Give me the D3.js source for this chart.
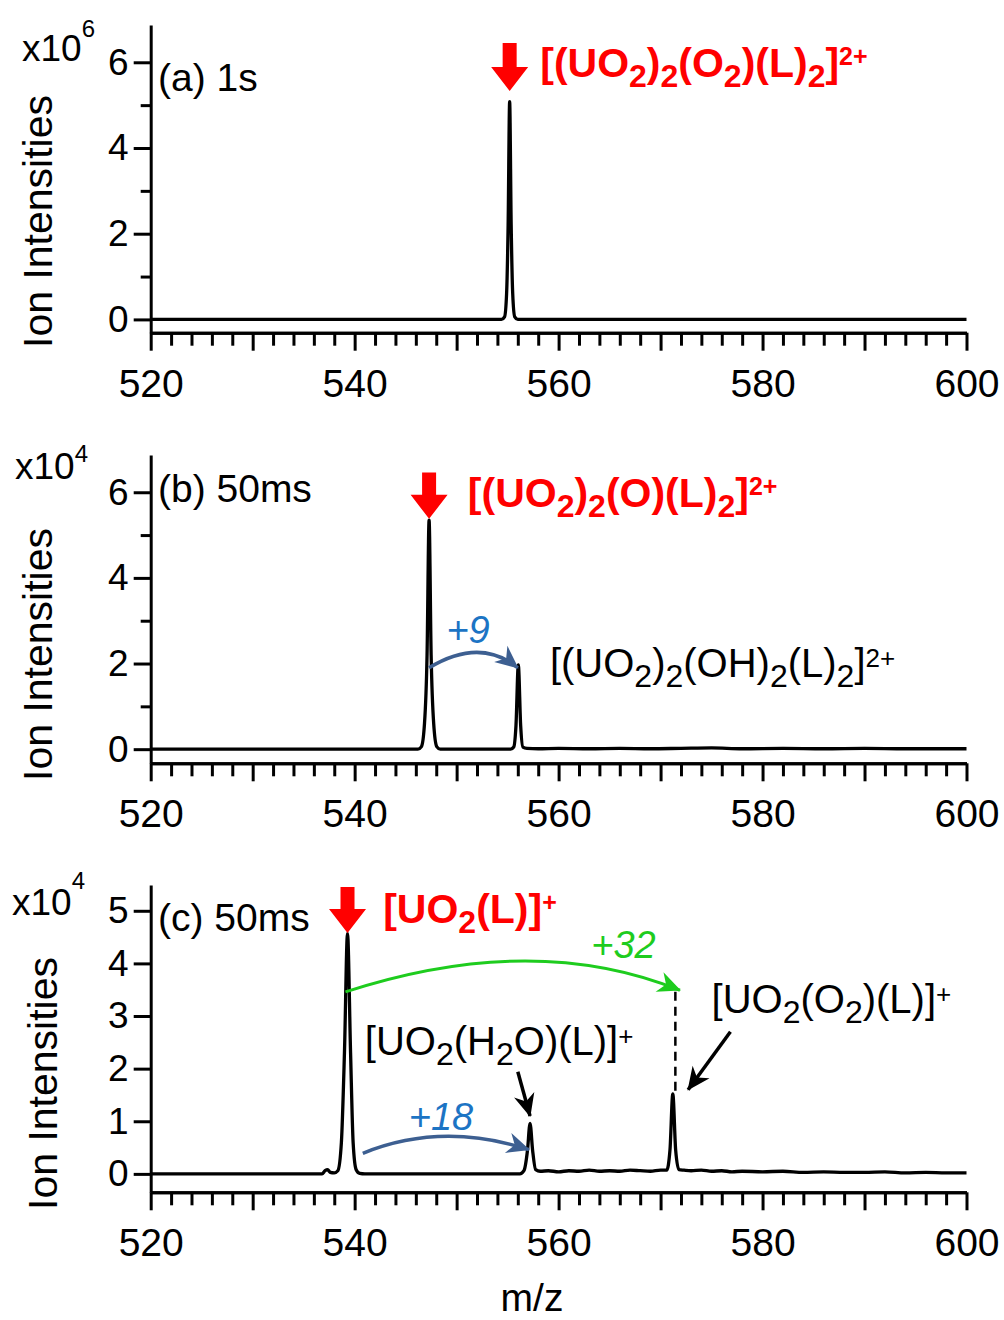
<!DOCTYPE html>
<html>
<head>
<meta charset="utf-8">
<script src="https://cdn.jsdelivr.net/npm/d3@7.9.0/dist/d3.min.js"></script>
<style>
  body { margin: 0; background: #fff; }
  svg { display: block; font-family: "Liberation Sans", Arial, sans-serif; }
</style>
</head>
<body>
<svg id="chart" width="1004" height="1320"></svg>
<script>
// ---- data ----
const xDomain = [520, 600];
const xLabelTicks = [520, 540, 560, 580, 600];
const xMajorTicks = [520, 530, 540, 550, 560, 570, 580, 590, 600];
const xMinorTicks = [522, 524, 526, 528, 532, 534, 536, 538, 542, 544, 546, 548,
  552, 554, 556, 558, 562, 564, 566, 568, 572, 574, 576, 578,
  582, 584, 586, 588, 592, 594, 596, 598];

// (a) 1s, intensities x10^6
const spectrumA = [
  [520, 0], [554.4, 0], [554.7, 0.06], [554.9, 0.6], [555.05, 2.2], [555.2, 5.08],
  [555.35, 2.2], [555.5, 0.6], [555.7, 0.06], [556.0, 0], [600, 0]
];
// (b) 50ms, intensities x10^4
const spectrumB = [
  [520, 0], [546.2, 0], [546.55, 0.06], [546.85, 0.6], [547.1, 2.2], [547.3, 5.35],
  [547.5, 2.2], [547.75, 0.6], [548.05, 0.06], [548.4, 0],
  [555.3, 0], [555.6, 0.05], [555.82, 0.55], [556.05, 1.97], [556.28, 0.55], [556.5, 0.05],
  [556.9, 0.02], [558, 0.01], [560, 0.02], [563, 0.01], [566, 0.02], [569, 0.01],
  [572, 0.02], [575, 0.03], [578, 0.01], [582, 0.02], [586, 0.01], [590, 0.02],
  [594, 0.01], [600, 0.01]
];
// (c) 50ms, intensities x10^4
const spectrumC = [
  [520, 0], [536.8, 0], [537.1, 0.06], [537.35, 0.08], [537.6, 0.03], [538.0, 0.02],
  [538.35, 0.06], [538.7, 0.6], [539.0, 2.3], [539.3, 4.57], [539.6, 2.3], [539.85, 0.6],
  [540.15, 0.08], [540.5, 0.01], [541, 0],
  [556.2, 0], [556.6, 0.06], [556.95, 0.45], [557.2, 0.96], [557.45, 0.45], [557.75, 0.08],
  [558.2, 0.05], [559, 0.06], [560, 0.04], [561, 0.06], [562, 0.05], [563, 0.07],
  [564, 0.05], [565, 0.06], [566, 0.05], [567, 0.07], [568, 0.06], [569, 0.05],
  [570, 0.07], [570.6, 0.07], [570.92, 0.45], [571.2, 1.52], [571.48, 0.45], [571.8, 0.08],
  [572.3, 0.07], [573, 0.06], [574, 0.07], [575, 0.05], [576, 0.06], [577, 0.04],
  [578, 0.05], [580, 0.04], [582, 0.05], [584, 0.03], [586, 0.04], [588, 0.03],
  [590, 0.03], [592, 0.04], [594, 0.02], [596, 0.03], [598, 0.02], [600, 0.02]
];

// chemical formula labels: [text, kind]
const formulaA = [['[(UO'], ['2', 'sub'], [')'], ['2', 'sub'], ['(O'], ['2', 'sub'], [')(L)'], ['2', 'sub'], [']'], ['2+', 'sup']];
const formulaB = [['[(UO'], ['2', 'sub'], [')'], ['2', 'sub'], ['(O)(L)'], ['2', 'sub'], [']'], ['2+', 'sup']];
const formulaB2 = [['[(UO'], ['2', 'sub'], [')'], ['2', 'sub'], ['(OH)'], ['2', 'sub'], ['(L)'], ['2', 'sub'], [']'], ['2+', 'sup']];
const formulaC = [['[UO'], ['2', 'sub'], ['(L)]'], ['+', 'sup']];
const formulaC2 = [['[UO'], ['2', 'sub'], ['(H'], ['2', 'sub'], ['O)(L)]'], ['+', 'sup']];
const formulaC3 = [['[UO'], ['2', 'sub'], ['(O'], ['2', 'sub'], [')(L)]'], ['+', 'sup']];

const red = '#ff0000';
const blueText = '#1c74c4';
const blueArrow = '#3d5f91';
const green = '#1ecc1e';

const svg = d3.select('#chart');
const x = d3.scaleLinear().domain(xDomain).range([150.7, 966.5]);

const defs = svg.append('defs');
function marker(id, color) {
  defs.append('marker')
    .attr('id', id)
    .attr('markerUnits', 'userSpaceOnUse')
    .attr('viewBox', '-24 -12 26 24')
    .attr('refX', 0).attr('refY', 0)
    .attr('markerWidth', 26).attr('markerHeight', 24)
    .attr('orient', 'auto')
    .append('path')
    .attr('d', 'M1,0 L-22,-10.5 L-15,0 L-22,10.5 Z')
    .attr('fill', color);
}
marker('head-blue', blueArrow);
marker('head-green', green);
marker('head-black', '#000');

function formula(g, px, py, parts, o) {
  const t = g.append('text')
    .attr('x', px).attr('y', py)
    .attr('fill', o.color)
    .style('font-weight', o.bold ? 'bold' : 'normal')
    .style('font-size', o.size + 'px');
  parts.forEach(([s, kind]) => {
    const ts = t.append('tspan').text(s);
    if (kind === 'sub') ts.attr('y', py + o.subShift).style('font-size', o.sub + 'px');
    else if (kind === 'sup') ts.attr('y', py - o.supShift).style('font-size', o.sup + 'px');
    else ts.attr('y', py);
  });
}

function redArrow(g, y, mz, tipV, topV) {
  const tx = x(mz), ty = y(tipV), top = y(topV);
  const sw = 7, hw = 18.5, hl = 24;
  g.append('path')
    .attr('d', `M${tx - sw},${top} H${tx + sw} V${ty - hl} H${tx + hw} L${tx},${ty} L${tx - hw},${ty - hl} H${tx - sw} Z`)
    .attr('fill', red);
}

function curved(g, y, p0, c, p1, color, id, w) {
  g.append('path')
    .attr('d', `M${x(p0[0])},${y(p0[1])} Q${x(c[0])},${y(c[1])} ${x(p1[0])},${y(p1[1])}`)
    .attr('fill', 'none')
    .attr('stroke', color)
    .attr('stroke-width', w)
    .attr('marker-end', `url(#${id})`);
}

function note(g, px, py, color, txt) {
  g.append('text').attr('x', px).attr('y', py)
    .attr('fill', color).style('font-size', '38px').style('font-style', 'italic').text(txt);
}

const bigRed = { color: red, bold: true, size: 41, sub: 32, sup: 25, subShift: 10, supShift: 12 };
const plain = { color: '#000', bold: false, size: 40, sub: 32, sup: 26, subShift: 10, supShift: 10 };

const panels = [
  {
    data: spectrumA, yDomain: [-0.31, 6.87], yRange: [332.7, 25],
    yMajor: [0, 2, 4, 6], yMinor: [1, 3, 5], exp: '6',
    expPos: [22, 61, 37], titlePos: [158, 91], yLabelPos: [52, 221.5], title: '(a) 1s',
    annotate(g, y) {
      redArrow(g, y, 555.2, 5.33, 6.45);
      formula(g, x(558.2), y(5.65), formulaA, bigRed);
    }
  },
  {
    data: spectrumB, yDomain: [-0.33, 6.87], yRange: [763.3, 455],
    yMajor: [0, 2, 4, 6], yMinor: [1, 3, 5], exp: '4',
    expPos: [15, 479, 462], titlePos: [158, 502], yLabelPos: [52, 654.5], title: '(b) 50ms',
    annotate(g, y) {
      redArrow(g, y, 547.3, 5.38, 6.46);
      formula(g, x(551.1), y(5.66), formulaB, bigRed);
      curved(g, y, [547.3, 1.9], [552.3, 2.62], [556.0, 1.9], blueArrow, 'head-blue', 3.5);
      note(g, x(549.0), y(2.48), blueText, '+9');
      formula(g, x(559.15), y(1.69), formulaB2, plain);
    }
  },
  {
    data: spectrumC, yDomain: [-0.35, 5.49], yRange: [1192.3, 885],
    yMajor: [0, 1, 2, 3, 4, 5], yMinor: [], exp: '4',
    expPos: [12, 915, 889], titlePos: [158, 931], yLabelPos: [57, 1083.5], title: '(c) 50ms',
    annotate(g, y) {
      redArrow(g, y, 539.3, 4.58, 5.45);
      formula(g, x(542.8), y(4.76), formulaC, bigRed);
      curved(g, y, [539.1, 3.46], [557.5, 4.62], [571.9, 3.49], green, 'head-green', 3);
      note(g, x(563.2), y(4.1), green, '+32');
      g.append('line')
        .attr('x1', x(571.45)).attr('x2', x(571.45))
        .attr('y1', y(3.46)).attr('y2', y(1.58))
        .attr('stroke', '#000').attr('stroke-width', 2.5).attr('stroke-dasharray', '9,6');
      formula(g, x(541.0), y(2.26), formulaC2, plain);
      g.append('line')
        .attr('x1', x(556.0)).attr('y1', y(1.94)).attr('x2', x(557.2)).attr('y2', y(1.1))
        .attr('stroke', '#000').attr('stroke-width', 3.5).attr('marker-end', 'url(#head-black)');
      formula(g, x(575.0), y(3.06), formulaC3, plain);
      g.append('line')
        .attr('x1', x(576.85)).attr('y1', y(2.7)).attr('x2', x(572.7)).attr('y2', y(1.6))
        .attr('stroke', '#000').attr('stroke-width', 3.5).attr('marker-end', 'url(#head-black)');
      curved(g, y, [540.8, 0.39], [548.5, 1.0], [557.1, 0.46], blueArrow, 'head-blue', 3.5);
      note(g, x(545.3), y(0.83), blueText, '+18');
    }
  }
];

panels.forEach(p => {
  const y = d3.scaleLinear().domain(p.yDomain).range(p.yRange);
  const g = svg.append('g');
  const axisY = p.yRange[0];

  // x axis: minor, major and labels
  const gx = g.append('g').attr('transform', `translate(0,${axisY})`);
  gx.append('g').call(d3.axisBottom(x).tickValues(xMinorTicks).tickSize(13).tickSizeOuter(0).tickFormat(''));
  gx.append('g').call(d3.axisBottom(x).tickValues(xMajorTicks).tickSize(18).tickSizeOuter(0).tickFormat(''));
  gx.append('g').call(d3.axisBottom(x).tickValues(xLabelTicks).tickSize(0).tickSizeOuter(0).tickFormat(d3.format('d')))
    .call(a => a.select('.domain').remove())
    .selectAll('text').attr('y', 64).attr('dy', 0).style('font-size', '39px').attr('fill', '#000');

  // y axis
  const gy = g.append('g').attr('transform', `translate(${x(520)},0)`);
  gy.append('g').call(d3.axisLeft(y).tickValues(p.yMinor).tickSize(10).tickSizeOuter(0).tickFormat(''))
    .call(a => a.select('.domain').remove());
  gy.append('g').call(d3.axisLeft(y).tickValues(p.yMajor).tickSize(17).tickSizeOuter(0).tickPadding(5).tickFormat(d3.format('d')))
    .selectAll('text').style('font-size', '37px').attr('fill', '#000');

  g.selectAll('.domain, .tick line').attr('stroke', '#000').attr('stroke-width', 3);

  // spectrum trace
  g.append('path')
    .datum(p.data)
    .attr('fill', 'none')
    .attr('stroke', '#000')
    .attr('stroke-width', 3.3)
    .attr('stroke-linejoin', 'round')
    .attr('d', d3.line().x(d => x(d[0])).y(d => y(d[1])).curve(d3.curveMonotoneX));

  // multiplier, panel title, axis title
  const m = g.append('text').attr('x', p.expPos[0]).attr('y', p.expPos[1]).style('font-size', '37px');
  m.append('tspan').text('x10');
  m.append('tspan').attr('y', p.expPos[2]).style('font-size', '24px').text(p.exp);

  g.append('text').attr('x', p.titlePos[0]).attr('y', p.titlePos[1]).style('font-size', '39px').text(p.title);

  g.append('text')
    .attr('transform', `translate(${p.yLabelPos[0]},${p.yLabelPos[1]}) rotate(-90)`)
    .attr('text-anchor', 'middle').style('font-size', '41px').text('Ion Intensities');

  p.annotate(g, y);
});

svg.append('text').attr('x', 532).attr('y', 1311).attr('text-anchor', 'middle')
  .style('font-size', '39px').text('m/z');
</script>
</body>
</html>
